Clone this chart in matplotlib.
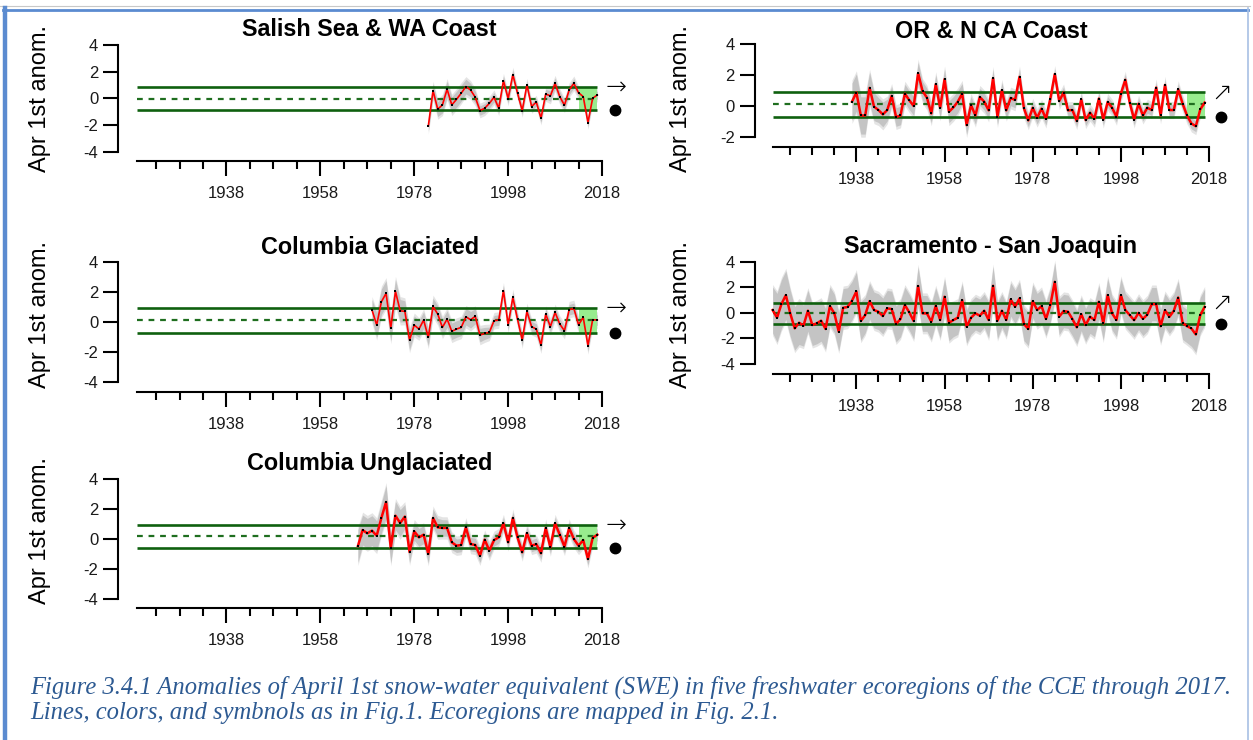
import matplotlib
matplotlib.use("Agg")
import matplotlib.pyplot as plt
from matplotlib.lines import Line2D

plt.rcParams['font.family'] = ['Liberation Sans', 'DejaVu Sans']

# ---------------- April 1st SWE anomalies by freshwater ecoregion ----------------
salish_years = list(range(1981, 2018))
salish_anom = [-2.08, 0.58, -0.82, -0.50, 0.68, -0.50, -0.08, 0.38, 0.88, 0.62,
               0.08, -0.92, -0.75, -0.38, 0.08, -0.75, 1.32, -0.02, 1.78, 0.38,
               -0.92, 1.00, -0.62, -0.28, -1.50, 0.32, 0.18, 1.12, 0.12, -0.52,
               0.62, 1.12, 0.42, 0.12, -1.82, 0.00, 0.25]
salish_band = [0.40, 0.50, 0.55, 0.60, 0.60, 0.60, 0.60, 0.60, 0.55, 0.50,
               0.45, 0.35, 0.35, 0.35, 0.35, 0.35, 0.35, 0.35, 0.35, 0.30,
               0.30, 0.30, 0.30, 0.30, 0.30, 0.35, 0.40, 0.40, 0.40, 0.35,
               0.35, 0.35, 0.30, 0.30, 0.30, 0.30, 0.30]
salish_mean, salish_upper, salish_lower = -0.02, 0.83, -0.87
salish_trend = "\u2192"

orca_years = list(range(1937, 2018))
orca_anom = [0.28, 0.87, -0.61, -0.61, 1.17, -0.04, -0.26, -0.54, -0.26, 0.65,
             -0.71, -0.61, 0.80, 0.37, 0.00, 2.12, 0.97, 0.54, -0.48, 1.41,
             -0.11, 1.73, -0.37, -0.09, 0.28, 0.80, -1.23, 0.06, -0.61, 0.58,
             0.28, -0.28, 1.80, -0.69, 1.02, -0.28, 0.52, 0.39, 1.88, -0.15,
             -0.93, -0.11, -0.76, -0.17, -0.82, 0.48, 2.06, 0.32, 0.87, -0.28,
             -0.26, -0.97, 0.43, -0.91, -0.43, -0.82, 0.48, -0.87, 0.26, -0.11,
             -0.69, 0.80, 1.69, 0.22, -0.87, 0.15, -0.61, -0.11, -0.26, 1.19,
             -0.61, 1.36, -0.26, -0.26, 1.08, 0.15, -0.61, -1.13, -1.30, -0.22,
             0.22]
orca_band = [1.20, 1.20, 1.20, 1.20, 1.00, 0.90, 0.80, 0.80, 0.70, 0.60,
             0.60, 0.60, 0.60, 0.60, 0.60, 0.70, 0.60, 0.60, 0.60, 0.60,
             0.65, 0.65, 0.70, 0.70, 0.70, 0.65, 0.60, 0.55, 0.55, 0.55,
             0.55, 0.55, 0.55, 0.50, 0.50, 0.50, 0.50, 0.50, 0.50, 0.45,
             0.40, 0.40, 0.40, 0.40, 0.40, 0.35, 0.35, 0.35, 0.35, 0.35,
             0.35, 0.35, 0.35, 0.35, 0.35, 0.35, 0.35, 0.35, 0.35, 0.35,
             0.35, 0.35, 0.35, 0.35, 0.35, 0.35, 0.35, 0.35, 0.35, 0.35,
             0.35, 0.35, 0.35, 0.35, 0.35, 0.35, 0.35, 0.35, 0.35, 0.35,
             0.35]
orca_mean, orca_upper, orca_lower = 0.11, 0.91, -0.71
orca_trend = "\u2197"

colg_years = list(range(1969, 2018))
colg_anom = [0.78, -0.22, 1.33, 1.89, -0.42, 2.02, 0.73, 0.69, -1.22, -0.22,
             -0.49, 0.11, -1.04, 1.02, 0.51, -0.38, 0.18, -0.64, -0.49, -0.38,
             0.33, 0.13, 0.36, -0.89, -0.78, -0.71, 0.07, 0.11, 2.07, -0.20,
             1.62, 0.16, -1.22, 0.69, -0.33, -0.49, -1.56, 0.51, -0.33, 0.62,
             -0.16, -0.60, 0.80, 0.89, -0.20, 0.29, -1.60, 0.13, 0.11]
colg_band = [0.70, 0.80, 0.85, 0.85, 0.85, 0.80, 0.75, 0.70, 0.65, 0.60,
             0.55, 0.55, 0.55, 0.55, 0.55, 0.55, 0.55, 0.55, 0.55, 0.55,
             0.55, 0.55, 0.50, 0.45, 0.40, 0.35, 0.35, 0.35, 0.35, 0.35,
             0.35, 0.35, 0.35, 0.35, 0.35, 0.35, 0.35, 0.35, 0.35, 0.35,
             0.35, 0.35, 0.35, 0.35, 0.35, 0.35, 0.35, 0.35, 0.35]
colg_mean, colg_upper, colg_lower = 0.11, 0.91, -0.78
colg_trend = "\u2192"

sacsj_years = list(range(1919, 2018))
sacsj_anom = [0.22, -0.38, 0.69, 1.39, -0.04, -1.21, -0.77, -1.00, 0.17, -0.95,
              -0.82, -0.61, -1.26, 0.53, -0.04, -1.47, 0.40, 0.46, 0.95, 1.68,
              -0.64, -0.17, 0.92, 0.22, 0.09, -0.25, 0.35, 0.30, -0.87, -0.48,
              0.61, 0.04, -0.64, 2.10, -0.04, -0.04, -0.69, 0.56, -0.56, 1.26,
              -0.77, -0.56, -0.38, 1.00, -1.08, -0.38, -0.04, -0.22, 0.17, -0.56,
              2.12, -0.61, 0.17, -0.56, 1.05, 0.48, 1.13, -0.87, -1.26, 0.92,
              0.22, 0.53, -0.48, 0.61, 2.43, -0.30, 0.14, 0.09, -0.48, -1.13,
              -0.09, -0.95, -0.30, -0.56, 0.87, -0.82, 1.39, -0.04, -0.56, 1.39,
              0.22, -0.17, -0.57, 0.00, -0.47, -0.13, 0.68, 0.68, -1.04, 0.21,
              -0.31, 0.16, 1.20, -0.78, -1.04, -1.22, -1.69, -0.18, 0.47]
sacsj_band = [1.80, 1.90, 1.90, 1.90, 1.80, 1.70, 1.70, 1.60, 1.60, 1.60,
              1.60, 1.60, 1.60, 1.50, 1.50, 1.50, 1.50, 1.50, 1.50, 1.50,
              1.50, 1.40, 1.40, 1.40, 1.40, 1.40, 1.40, 1.40, 1.40, 1.40,
              1.40, 1.40, 1.40, 1.50, 1.40, 1.40, 1.40, 1.40, 1.40, 1.40,
              1.40, 1.30, 1.30, 1.30, 1.30, 1.30, 1.30, 1.30, 1.30, 1.40,
              1.50, 1.40, 1.30, 1.30, 1.30, 1.30, 1.30, 1.30, 1.30, 1.30,
              1.30, 1.30, 1.30, 1.30, 1.50, 1.40, 1.30, 1.30, 1.30, 1.30,
              1.30, 1.30, 1.30, 1.30, 1.30, 1.30, 1.30, 1.30, 1.30, 1.30,
              1.30, 1.30, 1.30, 1.30, 1.30, 1.30, 1.30, 1.30, 1.30, 1.30,
              1.30, 1.30, 1.30, 1.30, 1.30, 1.40, 1.40, 1.40, 1.40]
sacsj_mean, sacsj_upper, sacsj_lower = -0.01, 0.81, -0.85
sacsj_trend = "\u2197"

colu_years = list(range(1966, 2018))
colu_anom = [-0.47, 0.60, 0.38, 0.56, 0.22, 1.41, 2.48, -0.60, 1.56, 1.07,
             1.50, -0.87, 0.51, 0.11, 0.29, -1.00, 1.41, 0.78, 0.74, 0.74,
             -0.22, -0.45, -0.40, 0.78, -0.34, -0.40, -1.12, -0.04, -0.78, -0.07,
             0.11, 1.05, -0.22, 1.41, 0.11, -0.89, 0.40, -0.45, -0.34, -0.96,
             0.74, -0.56, 1.05, 0.29, -0.51, 0.74, 0.00, -0.45, -0.07, -1.34,
             0.07, 0.29]
colu_band = [1.10, 1.00, 1.00, 1.00, 1.00, 1.00, 1.10, 1.00, 0.95, 0.90,
             0.80, 0.70, 0.60, 0.60, 0.60, 0.60, 0.60, 0.60, 0.55, 0.55,
             0.50, 0.45, 0.45, 0.45, 0.45, 0.45, 0.45, 0.45, 0.45, 0.40,
             0.40, 0.40, 0.40, 0.40, 0.40, 0.40, 0.40, 0.40, 0.40, 0.40,
             0.40, 0.40, 0.40, 0.40, 0.40, 0.40, 0.40, 0.40, 0.40, 0.40,
             0.40, 0.40]
colu_mean, colu_upper, colu_lower = 0.18, 0.96, -0.63
colu_trend = "\u2192"

region_titles = ["Salish Sea & WA Coast", "OR & N CA Coast", "Columbia Glaciated",
                 "Sacramento - San Joaquin", "Columbia Unglaciated"]
ylabel_text = "Apr 1st anom."
x_major = [1938, 1958, 1978, 1998, 2018]
axis_start, axis_end = 1919, 2018
recent_start, recent_end = 2013, 2017
caption_lines = [
    "Figure 3.4.1 Anomalies of April 1st snow-water equivalent (SWE) in five freshwater "
    "ecoregions of the CCE through 2017.",
    "Lines, colors, and symbnols as in Fig.1. Ecoregions are mapped in Fig. 2.1.",
]

# ---------------- figure ----------------
W, H = 1253, 740
fig = plt.figure(figsize=(W / 100, H / 100), dpi=100)
fig.patch.set_facecolor("white")

x_minor = [y for y in range(axis_start + 4, axis_end, 5) if y not in x_major]

LEFT_X = (118.5, 620.8)
RIGHT_X = (755.0, 1226.7)

panels = [
    dict(title=region_titles[0], years=salish_years, anom=salish_anom, band=salish_band,
         mean=salish_mean, upper=salish_upper, lower=salish_lower, trend=salish_trend,
         xpx=LEFT_X, ypx=(39.7, 160.6), ylim=(-4.68, 4.4), yticks=[-4, -2, 0, 2, 4],
         title_y=30, ylab=(40, 98.5), lw=1.2),
    dict(title=region_titles[1], years=orca_years, anom=orca_anom, band=orca_band,
         mean=orca_mean, upper=orca_upper, lower=orca_lower, trend=orca_trend,
         xpx=RIGHT_X, ypx=(37.8, 146.8), ylim=(-2.63, 4.4), yticks=[-2, 0, 2, 4],
         title_y=31, ylab=(681, 98.5), lw=1.8),
    dict(title=region_titles[2], years=colg_years, anom=colg_anom, band=colg_band,
         mean=colg_mean, upper=colg_upper, lower=colg_lower, trend=colg_trend,
         xpx=LEFT_X, ypx=(255.7, 391.8), ylim=(-4.67, 4.4), yticks=[-4, -2, 0, 2, 4],
         title_y=247, ylab=(40, 314), lw=1.2),
    dict(title=region_titles[3], years=sacsj_years, anom=sacsj_anom, band=sacsj_band,
         mean=sacsj_mean, upper=sacsj_upper, lower=sacsj_lower, trend=sacsj_trend,
         xpx=RIGHT_X, ypx=(256.6, 374.0), ylim=(-4.78, 4.4), yticks=[-4, -2, 0, 2, 4],
         title_y=247, ylab=(681, 314), lw=1.8),
    dict(title=region_titles[4], years=colu_years, anom=colu_anom, band=colu_band,
         mean=colu_mean, upper=colu_upper, lower=colu_lower, trend=colu_trend,
         xpx=LEFT_X, ypx=(473.3, 608.0), ylim=(-4.62, 4.4), yticks=[-4, -2, 0, 2, 4],
         title_y=463, ylab=(40, 531), lw=1.8),
]

DARKGREEN = "#0e600e"
DASHGREEN = "#1f6e1f"
BAND = "#c4c4c4"
RECENT = "#98ec8e"

for p in panels:
    l, r = p["xpx"]
    t, b = p["ypx"]
    ax = fig.add_axes([l / W, 1 - b / H, (r - l) / W, (b - t) / H])
    ax.set_xlim(1915, 2022)
    ax.set_ylim(*p["ylim"])
    ax.patch.set_alpha(0)

    yrs = p["years"]
    lo = [v - s for v, s in zip(p["anom"], p["band"])]
    hi = [v + s for v, s in zip(p["anom"], p["band"])]
    # soft outer edge, then the confidence band itself
    ax.fill_between(yrs, [v - 0.2 for v in lo], [v + 0.2 for v in hi],
                    color=BAND, alpha=0.45, lw=0, zorder=1)
    ax.fill_between(yrs, lo, hi, color=BAND, lw=0, zorder=1)

    ax.fill_between([recent_start, recent_end], [p["lower"]] * 2, [p["upper"]] * 2,
                    color=RECENT, lw=0, zorder=2)

    ax.hlines([p["upper"], p["lower"]], axis_start, recent_end, colors=DARKGREEN,
              lw=1.9, zorder=3)
    ax.hlines(p["mean"], axis_start, recent_end, colors=DASHGREEN, lw=1.6,
              linestyles=(0, (2.6, 2.6)), zorder=3)

    ax.plot(yrs, p["anom"], color="#ff0000", lw=p["lw"], zorder=4)
    ax.plot(yrs, p["anom"], ls="none", marker="s", ms=2.0, mew=0, color="black",
            zorder=5)

    ax.text(2021.0, p["upper"] - 0.05, p["trend"], ha="center", va="center",
            fontsize=18, family=["DejaVu Sans"], fontweight="light", zorder=6)
    ax.plot([2020.8], [p["lower"]], marker="o", ms=7.5, color="black", zorder=6)

    for s in ("top", "right"):
        ax.spines[s].set_visible(False)
    ax.spines["left"].set_bounds(p["yticks"][0], p["yticks"][-1])
    ax.spines["bottom"].set_bounds(axis_start, axis_end)
    for s in ("left", "bottom"):
        ax.spines[s].set_linewidth(1.5)

    ax.set_yticks(p["yticks"])
    ax.set_yticklabels([str(v) for v in p["yticks"]])
    ax.set_xticks(x_major)
    ax.set_xticklabels([str(v) for v in x_major])
    ax.set_xticks(x_minor, minor=True)
    ax.tick_params(axis="both", which="major", length=10.5, width=1.5,
                   labelsize=12, colors="black", labelcolor="#1a1a1a")
    ax.tick_params(axis="x", which="major", pad=7.5)
    ax.tick_params(axis="y", which="major", pad=4.0)
    ax.tick_params(axis="x", which="minor", length=5.5, width=1.5)

    cx = (l + r) / 2
    fig.text(cx / W, 1 - p["title_y"] / H, p["title"], ha="center", va="center",
             fontsize=16.8, fontweight="bold", color="black")
    fig.text(p["ylab"][0] / W, 1 - p["ylab"][1] / H, ylabel_text, rotation=90,
             ha="center", va="center", fontsize=17, color="black")

# caption, sized so the first line spans the frame
cap_color = "#2d5a92"
caps = []
for i, line in enumerate(caption_lines):
    caps.append(fig.text(30 / W, 1 - (687 + 26 * i) / H, line, ha="left", va="center",
                         fontsize=16, style="italic", family=["Liberation Serif"],
                         color=cap_color))
fig.canvas.draw()
renderer = fig.canvas.get_renderer()
width0 = caps[0].get_window_extent(renderer).width
fs = 16 * 1202 / width0
for c in caps:
    c.set_fontsize(fs)

# page frame
frame = "#5b8bd0"
fig.add_artist(Line2D([0 / W, 1250 / W], [1 - 6 / H, 1 - 6 / H], color="#c8c8c8", lw=0.8))
fig.add_artist(Line2D([3 / W, 1248 / W], [1 - 9.5 / H, 1 - 9.5 / H], color=frame, lw=2.0))
fig.add_artist(Line2D([5 / W, 5 / W], [1 - 8 / H, 0], color=frame, lw=3.2))
fig.add_artist(Line2D([1247.5 / W, 1247.5 / W], [1 - 8 / H, 0], color="#a8c0e4", lw=1.2))

fig.savefig("out.png", dpi=100)
